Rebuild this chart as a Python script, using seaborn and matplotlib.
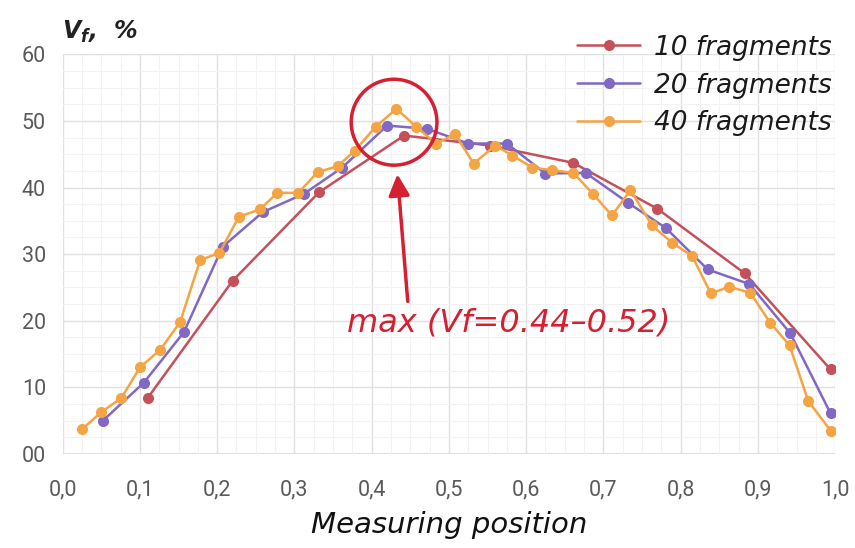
import pandas as pd
import matplotlib.pyplot as plt
import seaborn as sns
from matplotlib.patches import Ellipse
from matplotlib.ticker import MultipleLocator

# Data
x_10 = [0.110, 0.220, 0.332, 0.442, 0.553, 0.661, 0.770, 0.883, 0.994]
vf_10 = [8.4, 26.0, 39.3, 47.8, 46.3, 43.7, 36.8, 27.1, 12.7]

x_20 = [0.052, 0.105, 0.157, 0.207, 0.259, 0.313, 0.362, 0.420, 0.472, 0.525,
        0.575, 0.625, 0.677, 0.732, 0.781, 0.835, 0.889, 0.942, 0.994]
vf_20 = [5.0, 10.7, 18.3, 31.1, 36.3, 39.1, 43.0, 49.3, 48.8, 46.6,
         46.6, 42.1, 42.2, 37.7, 33.9, 27.7, 25.5, 18.1, 6.1]

x_40 = [0.025, 0.050, 0.076, 0.100, 0.126, 0.152, 0.178, 0.203, 0.228, 0.255,
        0.278, 0.305, 0.330, 0.356, 0.378, 0.405, 0.432, 0.458, 0.483, 0.508,
        0.532, 0.560, 0.582, 0.608, 0.633, 0.661, 0.686, 0.711, 0.735, 0.763,
        0.789, 0.815, 0.839, 0.863, 0.890, 0.916, 0.941, 0.965, 0.994]
vf_40 = [3.7, 6.3, 8.4, 13.0, 15.6, 19.8, 29.1, 30.2, 35.6, 36.7,
         39.2, 39.2, 42.3, 43.2, 45.5, 49.1, 51.8, 49.1, 46.6, 48.0,
         43.6, 46.3, 44.8, 43.0, 42.6, 42.2, 39.1, 35.8, 39.6, 34.3,
         31.7, 29.7, 24.1, 25.1, 24.2, 19.7, 16.3, 8.0, 3.5]

series_names = ['10 fragments', '20 fragments', '40 fragments']
colors = ['#c4505a', '#8068c4', '#f5a443']

x_ticks = [0.0, 0.1, 0.2, 0.3, 0.4, 0.5, 0.6, 0.7, 0.8, 0.9, 1.0]
x_tick_labels = ['0,0', '0,1', '0,2', '0,3', '0,4', '0,5', '0,6', '0,7', '0,8', '0,9', '1,0']
y_ticks = [0, 10, 20, 30, 40, 50, 60]
y_tick_labels = ['00', '10', '20', '30', '40', '50', '60']

# Long-form table for seaborn
frames = []
for name, xs, ys in zip(series_names, [x_10, x_20, x_40], [vf_10, vf_20, vf_40]):
    frames.append(pd.DataFrame({'pos': xs, 'vf': ys, 'series': name}))
data = pd.concat(frames, ignore_index=True)

sns.set_style('white')
plt.rcParams['mathtext.fontset'] = 'custom'
plt.rcParams['mathtext.it'] = 'DejaVu Sans:italic:bold'

fig = plt.figure(figsize=(8.55, 5.48), dpi=100)
ax = fig.add_axes([0.0733, 0.1715, 0.9035, 0.7295])

sns.lineplot(data=data, x='pos', y='vf', hue='series', palette=colors,
             marker='o', markersize=8, markeredgewidth=0, linewidth=1.8,
             sort=False, ax=ax)

ax.set_xlim(0, 1.0)
ax.set_ylim(0, 60)
ax.set_xticks(x_ticks)
ax.set_xticklabels(x_tick_labels, fontsize=15.5, color='#5a5a5a', family='Roboto')
ax.set_yticks(y_ticks)
ax.set_yticklabels(y_tick_labels, fontsize=15.5, color='#5a5a5a', family='Roboto')
ax.xaxis.set_minor_locator(MultipleLocator(0.025))
ax.yaxis.set_minor_locator(MultipleLocator(2.5))
ax.grid(which='major', color='#e0e0e0', linewidth=1.0)
ax.grid(which='minor', color='#f2f2f2', linewidth=0.8)
ax.set_axisbelow(True)
ax.tick_params(axis='x', length=0, pad=18)
ax.tick_params(axis='y', length=0, pad=12)
for s in ax.spines.values():
    s.set_visible(False)
ax.axhline(0, color='#dcdcdc', linewidth=1.2, zorder=0)

ax.set_xlabel('Measuring position', fontsize=21, style='italic',
              color='#111111', labelpad=8)
ax.set_ylabel('')
fig.text(0.072, 0.93, r'$V_f$,  %', fontsize=17, style='italic', weight='bold',
         color='#222222')

# Legend
leg = ax.legend(loc='upper right', bbox_to_anchor=(1.0, 0.98), bbox_transform=fig.transFigure,
                frameon=False, handlelength=2.4, handletextpad=0.5, labelspacing=0.45,
                prop={'style': 'italic', 'size': 19})
for t in leg.get_texts():
    t.set_color('#1a1a1a')

# Annotation of the maximum
red = '#d42030'
ax.add_patch(Ellipse((0.429, 49.8), 0.111, 12.9, fill=False, edgecolor=red, linewidth=2.5, zorder=5))
ax.annotate('', xy=(0.433, 42.4), xytext=(0.447, 22.5),
            arrowprops=dict(arrowstyle='-|>', color=red, lw=2.5, mutation_scale=32))
ax.text(0.577, 19.6, 'max (Vf=0.44\u20130.52)', color=red, fontsize=23, style='italic',
        ha='center', va='center')

fig.savefig('out.png', dpi=100)
